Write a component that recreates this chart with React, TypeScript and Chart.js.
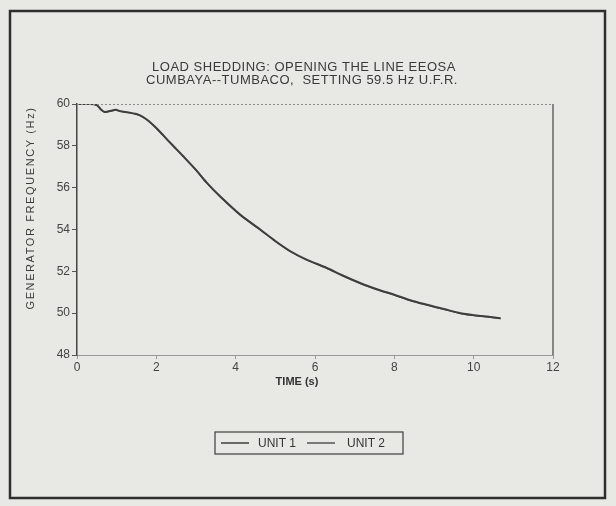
import React, { useEffect, useRef } from "react";
import { Chart, registerables } from "chart.js";

Chart.register(...registerables);

const titleLines = ["LOAD SHEDDING: OPENING THE LINE EEOSA", "CUMBAYA--TUMBACO,  SETTING 59.5 Hz U.F.R."];
const xTitle = "TIME (s)";
const yTitle = "GENERATOR FREQUENCY (Hz)";
const seriesLabels = ["UNIT 1", "UNIT 2"];

const timeS = [0, 0.3, 0.5, 0.6, 0.7, 0.85, 0.98, 1.1, 1.3, 1.5, 1.65, 1.8, 2.0, 2.2, 2.4, 2.68, 3.0, 3.27, 3.6, 4.12, 4.62, 5.0, 5.38, 5.8, 6.3, 6.7, 7.15, 7.6, 8.0, 8.4, 8.83, 9.25, 9.67, 10.2, 10.68];
const unit1Hz = [60, 60.0, 59.95, 59.75, 59.62, 59.68, 59.72, 59.65, 59.6, 59.52, 59.4, 59.2, 58.85, 58.45, 58.05, 57.5, 56.85, 56.24, 55.6, 54.7, 54.0, 53.45, 52.96, 52.55, 52.16, 51.8, 51.43, 51.12, 50.88, 50.62, 50.4, 50.2, 50.0, 49.86, 49.76];
const unit2Hz = [60, 60.0, 59.93, 59.72, 59.6, 59.66, 59.7, 59.64, 59.58, 59.5, 59.38, 59.18, 58.83, 58.43, 58.03, 57.48, 56.83, 56.22, 55.58, 54.68, 53.98, 53.43, 52.94, 52.53, 52.14, 51.78, 51.41, 51.1, 50.86, 50.6, 50.38, 50.18, 49.98, 49.84, 49.74];
const seriesColors = ["#3e3e3e", "#555555"];

const FONT = '"Liberation Sans", Arial, sans-serif';

const decor = {
  id: "decor",
  beforeDraw(chart: any) {
    const { ctx, width, height } = chart;
    ctx.save();
    ctx.fillStyle = "#e8e8e4";
    ctx.fillRect(0, 0, width, height);
    ctx.restore();
  },
  afterDraw(chart: any) {
    const { ctx, chartArea } = chart;
    const { left, right, top, bottom } = chartArea;
    ctx.save();
    // outer page frame
    ctx.strokeStyle = "#2e2e2e";
    ctx.lineWidth = 2.5;
    ctx.strokeRect(10, 11, 595, 487);
    // top dashed border
    ctx.strokeStyle = "#8a8a8a";
    ctx.lineWidth = 1;
    ctx.setLineDash([2, 2]);
    ctx.beginPath();
    ctx.moveTo(left, top + 0.5);
    ctx.lineTo(right, top + 0.5);
    ctx.stroke();
    ctx.setLineDash([]);
    // right border
    ctx.strokeStyle = "#666";
    ctx.lineWidth = 1.5;
    ctx.beginPath();
    ctx.moveTo(right, top);
    ctx.lineTo(right, bottom);
    ctx.stroke();

    // title
    ctx.fillStyle = "#3a3a3a";
    ctx.textAlign = "center";
    ctx.textBaseline = "middle";
    ctx.font = `13px ${FONT}`;
    (ctx as any).letterSpacing = "0.5px";
    ctx.fillText(titleLines[0], 304, 67);
    ctx.fillText(titleLines[1], 302, 80);

    // x title
    ctx.font = `bold 11px ${FONT}`;
    (ctx as any).letterSpacing = "0px";
    ctx.fillStyle = "#333";
    ctx.fillText(xTitle, 297, 382);

    // y title
    ctx.save();
    ctx.translate(31, 208);
    ctx.rotate(-Math.PI / 2);
    ctx.font = `11px ${FONT}`;
    (ctx as any).letterSpacing = "1.6px";
    ctx.fillStyle = "#3a3a3a";
    ctx.fillText(yTitle, 0, 0);
    ctx.restore();
    (ctx as any).letterSpacing = "0px";

    // legend
    ctx.strokeStyle = "#4a4a4a";
    ctx.lineWidth = 1.3;
    ctx.strokeRect(215, 432, 188, 22);
    const items = [
      { lx: 221, tx: 258 },
      { lx: 307, tx: 347 },
    ];
    chart.data.datasets.forEach((ds: any, i: number) => {
      const it = items[i];
      if (!it) return;
      ctx.strokeStyle = ds.borderColor;
      ctx.lineWidth = 1.5;
      ctx.beginPath();
      ctx.moveTo(it.lx, 443);
      ctx.lineTo(it.lx + 28, 443);
      ctx.stroke();
      ctx.fillStyle = "#333";
      ctx.textAlign = "left";
      ctx.font = `12px ${FONT}`;
      ctx.fillText(ds.label, it.tx, 444);
    });
    ctx.restore();
  },
};

export default function App() {
  const ref = useRef<HTMLCanvasElement | null>(null);
  useEffect(() => {
    if (!ref.current) return;
    const mk = (vals: number[]) => timeS.map((t, i) => ({ x: t, y: vals[i] }));
    const chart = new Chart(ref.current, {
      type: "line",
      data: {
        datasets: [
          { label: seriesLabels[0], data: mk(unit1Hz), borderColor: seriesColors[0], borderWidth: 2, pointRadius: 0, tension: 0.3, fill: false },
          { label: seriesLabels[1], data: mk(unit2Hz), borderColor: seriesColors[1], borderWidth: 1.2, pointRadius: 0, tension: 0.3, fill: false },
        ],
      },
      options: {
        responsive: false,
        animation: false,
        layout: { padding: { left: 10, right: 63, top: 104, bottom: 111 } },
        plugins: { legend: { display: false }, title: { display: false }, tooltip: { enabled: false } },
        scales: {
          x: {
            type: "linear",
            min: 0,
            max: 12,
            ticks: { stepSize: 2, color: "#444", font: { family: FONT, size: 12 }, padding: 1, maxRotation: 0 },
            grid: { drawOnChartArea: false, drawTicks: true, tickLength: 4, color: "#999" },
            border: { display: true, color: "#999", dash: [2, 2], width: 1 },
            afterFit: (s: any) => { s.height = 40; },
          },
          y: {
            min: 48,
            max: 60,
            ticks: { stepSize: 2, color: "#444", font: { family: FONT, size: 12 }, padding: 2 },
            grid: { drawOnChartArea: false, drawTicks: true, tickLength: 5, color: "#555" },
            border: { display: true, color: "#444", width: 1.5 },
            afterFit: (s: any) => { s.width = 67; },
          },
        },
      },
      plugins: [decor],
    });
    return () => chart.destroy();
  }, []);
  return (
    <div style={{ position: "absolute", left: 0, top: 0, width: 616, height: 506 }}>
      <canvas ref={ref} width={616} height={506} style={{ display: "block" }} />
    </div>
  );
}
